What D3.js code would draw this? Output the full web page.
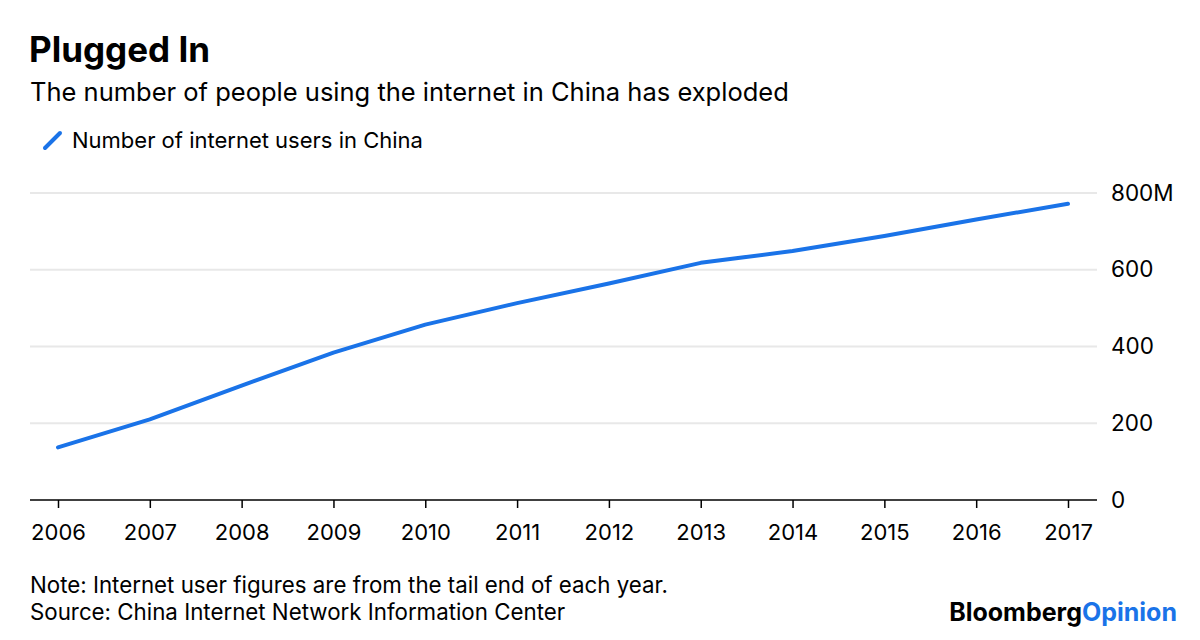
<!DOCTYPE html>
<html><head><meta charset="utf-8">
<script src="https://cdn.jsdelivr.net/npm/d3@7"></script>
<style>body{margin:0;background:#fff;} svg{display:block;font-family:Inter,"Liberation Sans",Arial,sans-serif;}</style>
</head><body>
<svg id="c" width="1200" height="640"></svg>
<script>
const years = [2006,2007,2008,2009,2010,2011,2012,2013,2014,2015,2016,2017];
const users = [137,210,298,384,457,513,564,618,649,688,731,772];
const yTicks = [0,200,400,600,800];
const yTickLabels = ["0","200","400","600","800M"];

const FONT = "Inter, Liberation Sans, Arial, sans-serif";
const svg = d3.select("#c");
const blue = "#1a73e8";
const x = d3.scalePoint().domain(years).range([58,1068]);
const y = d3.scaleLinear().domain([0,800]).range([500,193]);

svg.append("text").attr("x",29).attr("y",62).attr("font-size",35).attr("font-weight","bold").attr("fill","#000").text("Plugged In");
svg.append("text").attr("x",30).attr("y",101).attr("font-size",25.5).attr("fill","#000").text("The number of people using the internet in China has exploded");
svg.append("line").attr("x1",45).attr("y1",148).attr("x2",60).attr("y2",133).attr("stroke",blue).attr("stroke-width",4).attr("stroke-linecap","round");
svg.append("text").attr("x",72).attr("y",148).attr("font-size",22).attr("fill","#000").text("Number of internet users in China");

// grid
svg.append("g").selectAll("line").data(yTicks.filter(d=>d>0)).join("line")
  .attr("x1",30).attr("x2",1097).attr("y1",d=>y(d)).attr("y2",d=>y(d))
  .attr("stroke","#e8e8e8").attr("stroke-width",2);

// y axis labels
const yAxis = d3.axisRight(y).tickValues(yTicks).tickSize(0).tickPadding(0).tickFormat((d,i)=>yTickLabels[i]);
const gy = svg.append("g").attr("transform","translate(1111,0)").call(yAxis);
gy.select(".domain").remove();
gy.selectAll("text").attr("font-size",22.5).attr("fill","#000").attr("font-family",FONT);

// x axis
const xAxis = d3.axisBottom(x).tickSize(8).tickPadding(16);
const gx = svg.append("g").attr("transform","translate(0,500)").call(xAxis);
gx.select(".domain").attr("d","M30,0H1097").attr("stroke","#000").attr("stroke-width",1.5);
gx.selectAll(".tick line").attr("stroke","#000").attr("stroke-width",1.5);
gx.selectAll("text").attr("font-size",22).attr("fill","#000").attr("font-family",FONT);

// line
svg.append("path").datum(years.map((yr,i)=>[yr,users[i]]))
  .attr("d",d3.line().x(d=>x(d[0])).y(d=>y(d[1])))
  .attr("fill","none").attr("stroke",blue).attr("stroke-width",4).attr("stroke-linejoin","round").attr("stroke-linecap","round");

svg.append("text").attr("x",30).attr("y",593).attr("font-size",22.3).attr("fill","#000").text("Note: Internet user figures are from the tail end of each year.");
svg.append("text").attr("x",30).attr("y",620).attr("font-size",22.3).attr("fill","#000").text("Source: China Internet Network Information Center");
const logo = svg.append("text").attr("x",1177).attr("y",621).attr("text-anchor","end").attr("font-size",25).attr("font-weight","bold");
logo.append("tspan").attr("fill","#000").text("Bloomberg");
logo.append("tspan").attr("fill",blue).text("Opinion");
</script>
</body></html>
